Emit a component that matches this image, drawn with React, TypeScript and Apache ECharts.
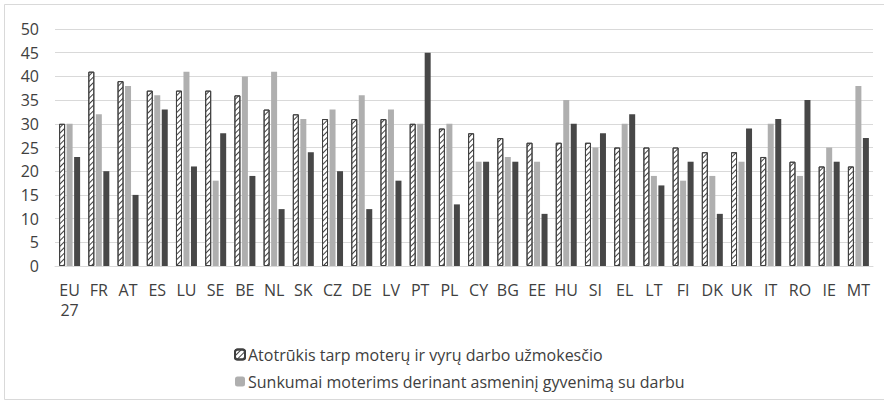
import React, { useEffect, useRef } from "react";
import * as echarts from "echarts";

const categories = ["EU 27", "FR", "AT", "ES", "LU", "SE", "BE", "NL", "SK", "CZ", "DE", "LV", "PT", "PL", "CY", "BG", "EE", "HU", "SI", "EL", "LT", "FI", "DK", "UK", "IT", "RO", "IE", "MT"];

const payGap = [30, 41, 39, 37, 37, 37, 36, 33, 32, 31, 31, 31, 30, 29, 28, 27, 26, 26, 26, 25, 25, 25, 24, 24, 23, 22, 21, 21];
const workLife = [30, 32, 38, 36, 41, 18, 40, 41, 31, 33, 36, 33, 30, 30, 22, 23, 22, 35, 25, 30, 19, 18, 19, 22, 30, 19, 25, 38];
const thirdSeries = [23, 20, 15, 33, 21, 28, 19, 12, 24, 20, 12, 18, 45, 13, 22, 22, 11, 30, 28, 32, 17, 22, 11, 29, 31, 35, 22, 27];

const seriesNames = [
  "Atotrūkis tarp moterų ir vyrų darbo užmokesčio",
  "Sunkumai moterims derinant asmeninį gyvenimą su darbu",
  "Trečias rodiklis",
];

const yTicks = { min: 0, max: 50, interval: 5 };

const FONT = "'Open Sans', Lato, sans-serif";

export default function App() {
  const ref = useRef<HTMLDivElement>(null);
  useEffect(() => {
    if (!ref.current) return;
    const chart = echarts.init(ref.current, undefined, { renderer: "svg" });
    chart.setOption({
      animation: false,
      backgroundColor: "#ffffff",
      textStyle: { fontFamily: FONT },
      graphic: [
        {
          type: "rect",
          shape: { x: 4.5, y: 4.5, width: 900, height: 395 },
          style: { fill: "none", stroke: "#d9d9d9", lineWidth: 1 },
          silent: true,
        },
      ],
      grid: { left: 55, right: 11, top: 29, bottom: 135, containLabel: false },
      legend: {
        data: [seriesNames[0], seriesNames[1]],
        orient: "vertical",
        left: 229,
        top: 339,
        itemWidth: 10,
        itemHeight: 10,
        itemGap: 6,
        textStyle: { fontFamily: FONT, fontSize: 16, color: "#404040", lineHeight: 21, padding: [0, 0, 0, -2] },
      },
      xAxis: {
        type: "category",
        data: categories,
        axisLine: { lineStyle: { color: "#d9d9d9", width: 1 } },
        axisTick: { show: false },
        axisLabel: {
          color: "#404040",
          fontSize: 16,
          fontFamily: FONT,
          margin: 14,
          lineHeight: 20,
          interval: 0,
          formatter: (v: string) => v.replace(" ", "\n"),
        },
      },
      yAxis: {
        type: "value",
        min: yTicks.min,
        max: yTicks.max,
        interval: yTicks.interval,
        axisLine: { show: false },
        axisTick: { show: false },
        splitLine: { lineStyle: { color: "#d9d9d9", width: 1 } },
        axisLabel: { color: "#404040", fontSize: 16, fontFamily: FONT, margin: 16 },
      },
      series: [
        {
          name: seriesNames[0],
          type: "bar",
          data: payGap,
          barWidth: 6,
          barGap: "25%",
          itemStyle: {
            color: "#ffffff",
            borderColor: "#404040",
            borderWidth: 1,
            decal: {
              symbol: "rect",
              color: "#404040",
              dashArrayX: [1, 0],
              dashArrayY: [1, 3],
              rotation: -Math.PI / 4,
            },
          },
        },
        {
          name: seriesNames[1],
          type: "bar",
          data: workLife,
          barWidth: 6,
          barGap: "25%",
          itemStyle: { color: "#afafaf" },
        },
        {
          name: seriesNames[2],
          type: "bar",
          data: thirdSeries,
          barWidth: 6,
          barGap: "25%",
          itemStyle: { color: "#474747" },
        },
      ],
    });
    return () => chart.dispose();
  }, []);
  return (
    <div
      ref={ref}
      style={{ position: "absolute", left: 0, top: 0, width: 884, height: 401 }}
    />
  );
}
